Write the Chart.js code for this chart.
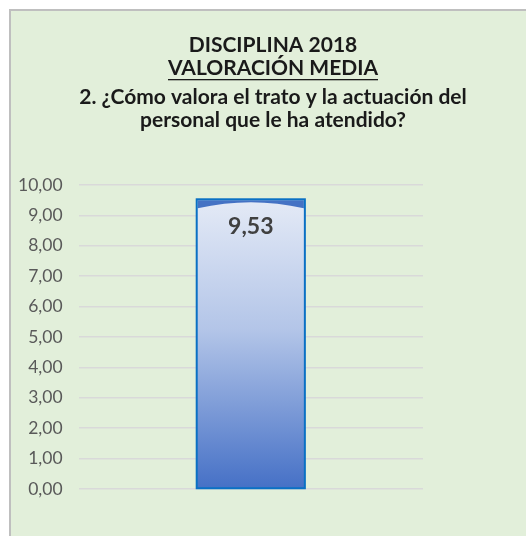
<!DOCTYPE html>
<html>
<head>
<meta charset="utf-8">
<script src="https://cdn.jsdelivr.net/npm/chart.js@4/dist/chart.umd.min.js"></script>
<style>
  html, body { margin: 0; padding: 0; background: #ffffff; }
  #frame { position: absolute; left: 9px; top: 9px; width: 540px; height: 560px;
           background: #E2EFDA; border: 2px solid #BFBFBF; box-sizing: border-box; }
  #wrap { position: absolute; left: 0; top: 0; width: 526px; height: 536px; }
</style>
</head>
<body>
<div id="frame"></div>
<div id="wrap"><canvas id="c" width="526" height="536"></canvas></div>
<script>
const titleLines = ["DISCIPLINA 2018", "VALORACIÓN MEDIA", "2. ¿Cómo valora el trato y la actuación del", "personal que le ha atendido?"];
const categories = ["Valoración media"];
const values = [9.53];
const yMin = 0, yMax = 10, yStep = 1;

const fmt = v => v.toFixed(2).replace('.', ',');

const titlePlugin = {
  id: 'titleDraw',
  afterDraw(chart) {
    const ctx = chart.ctx;
    ctx.save();
    ctx.fillStyle = '#1a1a1a';
    ctx.font = 'bold 21px Lato';
    ctx.textAlign = 'center';
    ctx.textBaseline = 'alphabetic';
    const cx = 273;
    const baselines = [52, 75, 104, 127];
    titleLines.forEach((t, i) => {
      ctx.fillText(t, cx, baselines[i]);
      if (i === 1) {
        const w = ctx.measureText(t).width;
        ctx.fillRect(cx - w / 2, baselines[i] + 4, w, 1.3);
      }
    });
    ctx.restore();
  }
};

const barDeco = {
  id: 'barDeco',
  afterDatasetsDraw(chart) {
    const ctx = chart.ctx;
    const meta = chart.getDatasetMeta(0);
    meta.data.forEach((bar, i) => {
      const x0 = bar.x - bar.width / 2, x1 = bar.x + bar.width / 2;
      const y0 = bar.y;
      ctx.save();
      ctx.beginPath();
      ctx.moveTo(x0 + 1, y0 + 1);
      ctx.lineTo(x1 - 1, y0 + 1);
      ctx.lineTo(x1 - 1, y0 + 9);
      ctx.quadraticCurveTo(bar.x, y0 - 3, x0 + 1, y0 + 9);
      ctx.closePath();
      ctx.fillStyle = '#4472C4';
      ctx.fill();
      ctx.strokeStyle = '#0A70C4';
      ctx.lineWidth = 2;
      ctx.strokeRect(x0, y0, x1 - x0, bar.base - y0);
      ctx.fillStyle = '#404040';
      ctx.font = 'bold 23px Lato';
      ctx.textAlign = 'center';
      ctx.textBaseline = 'alphabetic';
      ctx.fillText(fmt(values[i]), bar.x, y0 + 35);
      ctx.restore();
    });
  }
};

const ctx = document.getElementById('c').getContext('2d');
new Chart(ctx, {
  type: 'bar',
  data: {
    labels: categories,
    datasets: [{
      data: values,
      backgroundColor: (c) => {
        const ys = c.chart.scales && c.chart.scales.y;
        if (!ys || c.dataIndex === undefined) return '#A4B9E2';
        const top = ys.getPixelForValue(values[c.dataIndex]);
        const bottom = ys.getPixelForValue(0);
        if (!isFinite(top) || !isFinite(bottom) || top === bottom) return '#A4B9E2';
        const g = c.chart.ctx.createLinearGradient(0, top, 0, bottom);
        g.addColorStop(0, '#E4EAF6');
        g.addColorStop(0.45, '#B3C5E8');
        g.addColorStop(1, '#4570C6');
        return g;
      },
      borderWidth: 0,
      barPercentage: 0.314,
      categoryPercentage: 1.0
    }]
  },
  options: {
    responsive: false,
    animation: false,
    devicePixelRatio: 1,
    layout: { padding: { left: 2, right: 103, top: 185, bottom: 47 } },
    plugins: { legend: { display: false }, title: { display: false }, tooltip: { enabled: false } },
    scales: {
      x: { display: false, grid: { display: false } },
      y: {
        min: yMin, max: yMax,
        border: { display: false },
        grid: { color: '#D9D9D9', lineWidth: 1.5, drawTicks: false },
        ticks: {
          stepSize: yStep,
          padding: 16,
          color: '#595959',
          font: { family: 'Lato', size: 17.5 },
          callback: v => fmt(v)
        }
      }
    }
  },
  plugins: [titlePlugin, barDeco]
});
</script>
</body>
</html>
